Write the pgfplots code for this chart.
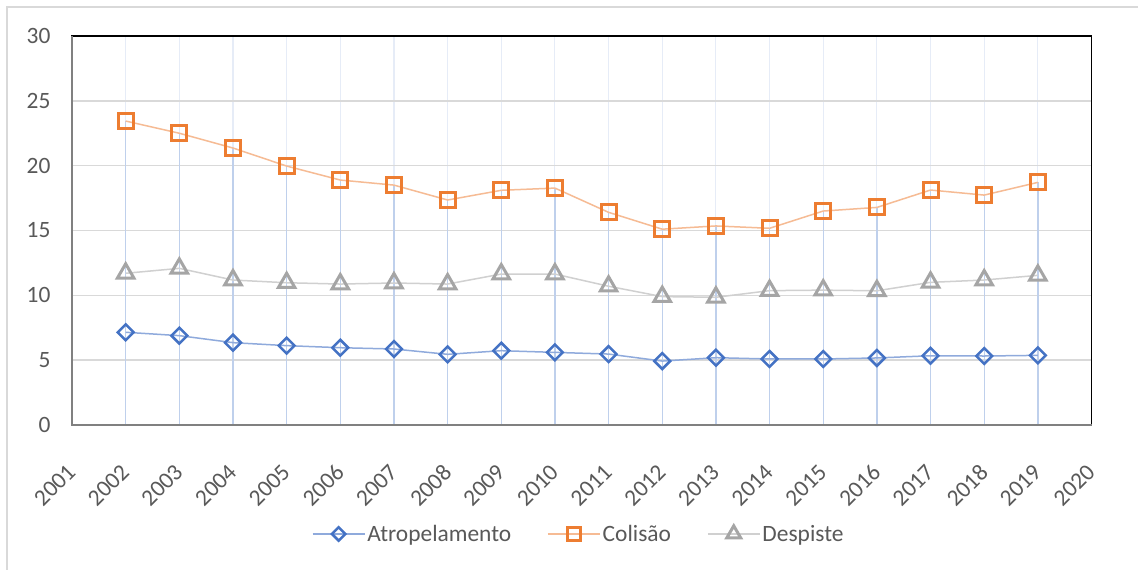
\documentclass[border=0pt]{standalone}
\usepackage{pgfplots}
\pgfplotsset{compat=1.18}
\usepackage{fontspec}
\setmainfont{Carlito}
\definecolor{cblue}{HTML}{4472C4}
\definecolor{cbluel}{HTML}{8FAADC}
\definecolor{corange}{HTML}{ED7D31}
\definecolor{corangel}{HTML}{F8CBAD}
\definecolor{cgray}{HTML}{A5A5A5}
\definecolor{cgrayl}{HTML}{D0D0D0}
\definecolor{ctext}{HTML}{595959}
\definecolor{cgrid}{HTML}{D9D9D9}
\definecolor{cvgrid}{HTML}{E6ECF7}
\definecolor{cdrop}{HTML}{BFD0EC}
\begin{document}
\begin{tikzpicture}[x=1bp,y=1bp]
\useasboundingbox (0,0) rectangle (1138,570);
\fill[white] (0,0) rectangle (1138,570);
\draw[cgrid, line width=1.5bp] (7,0) -- (7,563) -- (1138,563);
\begin{axis}[
  at={(72bp,145bp)}, anchor=origin,
  scale only axis, width=1019.5bp, height=389bp,
  xmin=2001, xmax=2020, ymin=0, ymax=30,
  xtick={2001,...,2020}, ytick={0,5,...,30},
  xticklabel style={/pgf/number format/set thousands separator={}, xshift=-6bp, yshift=-33bp, rotate=45, anchor=north east},
  yticklabel style={xshift=-18bp},
  /pgf/number format/assume math mode=true,
  tick label style={font=\fontsize{23.5}{27}\selectfont, text=ctext},
  major tick length=0pt,
  xmajorgrids, ymajorgrids,
  x grid style={cvgrid, line width=1.2bp},
  y grid style={cgrid, line width=1.5bp},
  axis line style={draw=black, line width=1.5bp},
  clip=false,
  legend columns=3,
  legend style={at={(0.497,-0.28)}, anchor=center, draw=none, fill=none,
    font=\fontsize{23.5}{27}\selectfont, text=ctext,
    /tikz/every even column/.append style={column sep=34bp}},
  legend cell align=left,
  legend image code/.code={\draw[mark repeat=2, mark phase=2, #1, every mark/.append style={scale=0.85}] plot coordinates {(0bp,0bp) (26bp,0bp) (52bp,0bp)};},
]
\addplot[ycomb, draw=cdrop, line width=1.3bp, no marks, forget plot] coordinates {
(2002,23.44) (2003,22.5) (2004,21.36) (2005,19.97) (2006,18.89) (2007,18.5) (2008,17.35) (2009,18.1) (2010,18.27) (2011,16.4) (2012,15.1) (2013,15.35) (2014,15.17) (2015,16.5) (2016,16.78) (2017,18.12) (2018,17.73) (2019,18.71)};
\addplot[draw=cbluel, line width=1.5bp, mark=square, mark size=5.6bp,
  mark options={draw=cblue, fill=white, line width=2.5bp, solid, rotate=45}] coordinates {
(2002,7.15) (2003,6.89) (2004,6.35) (2005,6.12) (2006,5.96) (2007,5.86) (2008,5.45) (2009,5.73) (2010,5.6) (2011,5.47) (2012,4.93) (2013,5.19) (2014,5.09) (2015,5.09) (2016,5.17) (2017,5.34) (2018,5.32) (2019,5.37)};
\addlegendentry{Atropelamento}
\addplot[draw=corangel!80!corange, line width=1.5bp, mark=square, mark size=7.5bp,
  mark options={draw=corange, fill=white, line width=3bp, solid}] coordinates {
(2002,23.44) (2003,22.5) (2004,21.36) (2005,19.97) (2006,18.89) (2007,18.5) (2008,17.35) (2009,18.1) (2010,18.27) (2011,16.4) (2012,15.1) (2013,15.35) (2014,15.17) (2015,16.5) (2016,16.78) (2017,18.12) (2018,17.73) (2019,18.71)};
\addlegendentry{Colisão}
\addplot[draw=cgrayl, line width=1.5bp, mark=triangle, mark size=9.5bp,
  mark options={draw=cgray, fill=white, line width=3bp, solid}] coordinates {
(2002,11.7) (2003,12.08) (2004,11.18) (2005,10.97) (2006,10.87) (2007,10.95) (2008,10.87) (2009,11.64) (2010,11.64) (2011,10.7) (2012,9.9) (2013,9.85) (2014,10.36) (2015,10.4) (2016,10.35) (2017,11.0) (2018,11.18) (2019,11.54)};
\addlegendentry{Despiste}
\draw[color=gray, line width=2bp] (rel axis cs:0,1) -- (rel axis cs:0,0) -- (rel axis cs:1,0);
\end{axis}
\end{tikzpicture}
\end{document}
